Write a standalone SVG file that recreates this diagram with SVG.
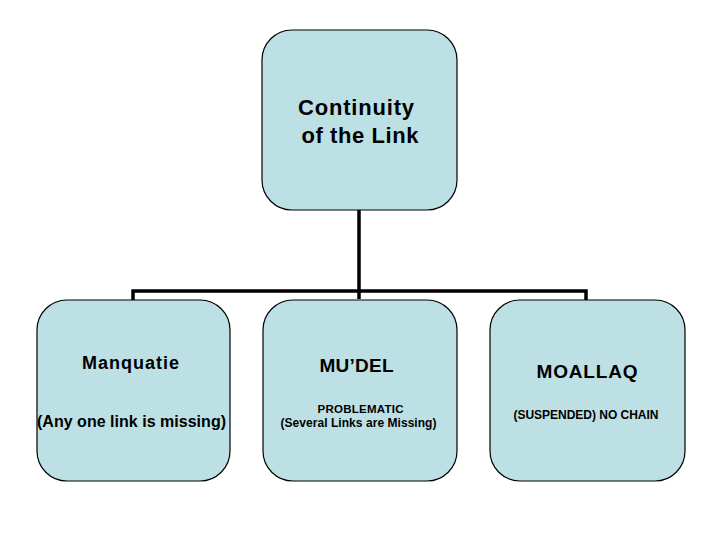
<svg xmlns="http://www.w3.org/2000/svg" width="720" height="540" viewBox="0 0 720 540">
<style>
.box{fill:#bde0e4;stroke:#000;stroke-width:1.2}
.t{font-family:"Liberation Sans",Arial,sans-serif;font-weight:bold;fill:#000;text-anchor:middle}
.c{fill:none;stroke:#000;stroke-width:3.5}
</style>
<rect width="720" height="540" fill="#fff"/>
<g id="connectors">
<path class="c" d="M359,210 V299"/>
<path class="c" d="M133,300 V291 H586 V300"/>
</g>
<g id="root">
<rect class="box" x="262" y="30" width="195" height="180" rx="30"/>
<text class="t" x="356" y="115" font-size="22" textLength="116" lengthAdjust="spacing">Continuity</text>
<text class="t" x="360" y="143" font-size="22" textLength="117" lengthAdjust="spacing">of the Link</text>
</g>
<g id="manquatie">
<rect class="box" x="37" y="300" width="193" height="181" rx="30"/>
<text class="t" x="130.5" y="369" font-size="18" textLength="97" lengthAdjust="spacing">Manquatie</text>
<text class="t" x="131.5" y="427" font-size="16" textLength="189" lengthAdjust="spacing">(Any one link is missing)</text>
</g>
<g id="mudel">
<rect class="box" x="263" y="300" width="194" height="181" rx="30"/>
<text class="t" x="356.5" y="371.5" font-size="19" textLength="74" lengthAdjust="spacing">MU’DEL</text>
<text class="t" x="360.5" y="412.5" font-size="11.5" textLength="86" lengthAdjust="spacing">PROBLEMATIC</text>
<text class="t" x="358.5" y="427" font-size="12" textLength="156" lengthAdjust="spacing">(Several Links are Missing)</text>
</g>
<g id="moallaq">
<rect class="box" x="490" y="300" width="195" height="181" rx="30"/>
<text class="t" x="587" y="378" font-size="19" textLength="101" lengthAdjust="spacing">MOALLAQ</text>
<text class="t" x="586" y="419" font-size="12" textLength="145" lengthAdjust="spacing">(SUSPENDED) NO CHAIN</text>
</g>
</svg>
